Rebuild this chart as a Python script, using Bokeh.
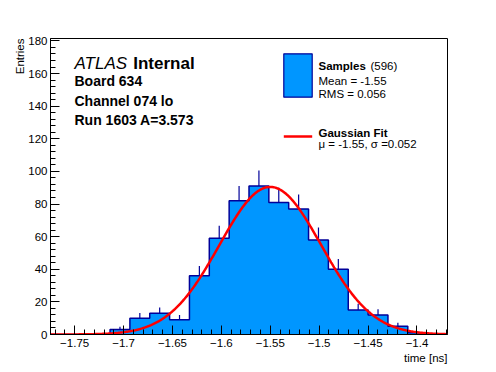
import numpy as np
from bokeh.plotting import figure
from bokeh.models import (Range1d, SingleIntervalTicker, CustomJSTickFormatter,
                          Label, Title)
from bokeh.embed import file_html
from bokeh.resources import INLINE

# ---------------- data ----------------
hist_min = -1.7747
hist_max = -1.3688
bin_counts = [0, 0, 0, 3, 10, 13, 9, 36, 59, 82, 91, 81, 77, 58, 40, 15, 12, 5, 1, 0]
fit_amplitude = 90.5
fit_mu = -1.55
fit_sigma = 0.052
y_max = 181.5
n_entries = 596
mean_txt = "-1.55"
rms_txt = "0.056"

# ---------------- derived ----------------
nb = len(bin_counts)
edges = np.linspace(hist_min, hist_max, nb + 1)
counts = np.array(bin_counts, dtype=float)
centers = 0.5 * (edges[:-1] + edges[1:])
step_y = np.append(counts, counts[-1])

FONT = "Liberation Sans"
FILL = "#0096ff"
DARK = "#000099"

# frame geometry in page pixels (for annotation placement only)
FL, FR, FT, FB = 50.0, 447.0, 38.0, 334.0


def dx(px):
    return hist_min + (px - FL) / (FR - FL) * (hist_max - hist_min)


def dy(py):
    return (FB - py) / (FB - FT) * y_max


p = figure(frame_width=int(FR - FL), frame_height=int(FB - FT),
           output_backend="svg", toolbar_location=None,
           x_range=Range1d(hist_min, hist_max), y_range=Range1d(0, y_max),
           min_border_left=50, min_border_right=49, min_border_top=38,
           min_border_bottom=38)
p.xgrid.visible = False
p.ygrid.visible = False
p.outline_line_color = "black"
p.outline_line_width = 1
p.background_fill_color = "white"
p.border_fill_color = "white"

# histogram fill (single area, no seams)
p.varea_step(x=edges, y1=np.zeros_like(step_y), y2=step_y, step_mode="after",
             fill_color=FILL)
# outline step
p.step(x=edges, y=step_y, mode="after", line_color=DARK, line_width=1.5)
# error bars (upper)
nz = counts > 0
p.segment(x0=centers[nz], y0=counts[nz], x1=centers[nz],
          y1=counts[nz] + np.sqrt(counts[nz]), line_color=DARK, line_width=1.2)

# gaussian fit
xf = np.linspace(hist_min, hist_max, 400)
yf = fit_amplitude * np.exp(-0.5 * ((xf - fit_mu) / fit_sigma) ** 2)
p.line(xf, yf, line_color="#ff0000", line_width=2.5)

# axes
xa = p.xaxis[0]
xa.ticker = SingleIntervalTicker(interval=0.05, num_minor_ticks=5)
xa.formatter = CustomJSTickFormatter(code="""
    var v = Math.round(tick*100)/100;
    return String(v).replace('-', '\\u2212');
""")
ya = p.yaxis[0]
ya.ticker = SingleIntervalTicker(interval=20, num_minor_ticks=5)
for ax in (xa, ya):
    ax.major_tick_in = 9
    ax.major_tick_out = 0
    ax.minor_tick_in = 5
    ax.minor_tick_out = 0
    ax.axis_line_color = "black"
    ax.major_tick_line_color = "black"
    ax.minor_tick_line_color = "black"
    ax.major_label_text_font = FONT
    ax.major_label_text_font_size = "11.5px"
    ax.major_label_text_color = "black"
xa.major_label_standoff = 4
ya.major_label_standoff = 3

# axis titles
p.add_layout(Title(text="time [ns]", align="right", text_font=FONT,
                   text_font_size="11.5px", text_font_style="normal",
                   text_color="black", standoff=0, offset=0), "below")
p.add_layout(Title(text="Entries", align="right", text_font=FONT,
                   text_font_size="11.5px", text_font_style="normal",
                   text_color="black", standoff=0, offset=0), "left")

# header text
p.add_layout(Label(x=dx(74), y=dy(63.3), text="ATLAS", text_font=FONT,
                   text_font_style="italic", text_font_size="17px",
                   text_color="black", text_baseline="alphabetic"))
p.add_layout(Label(x=dx(132.7), y=dy(63.3), text="Internal", text_font=FONT,
                   text_font_style="bold", text_font_size="17px",
                   text_color="black", text_baseline="alphabetic"))
for txt, base in (("Board 634", 80.7), ("Channel 074 lo", 100.0),
                  ("Run 1603 A=3.573", 119.0)):
    p.add_layout(Label(x=dx(74), y=dy(base), text=txt, text_font=FONT,
                       text_font_style="bold", text_font_size="14px",
                       text_color="black", text_baseline="alphabetic"))

# legend
p.quad(left=dx(283.3), right=dx(311.7), top=dy(53.3), bottom=dy(96.7),
       fill_color=FILL, line_color=DARK, line_width=1.2)
p.line([dx(283.3), dx(311.7)], [dy(136), dy(136)], line_color="#ff0000",
       line_width=2.5)
LFS = "11.5px"


def legend_text(px, py, txt, style="normal"):
    p.add_layout(Label(x=dx(px), y=dy(py), text=txt, text_font=FONT,
                       text_font_style=style, text_font_size=LFS,
                       text_color="black", text_baseline="alphabetic"))


legend_text(318, 65, "Samples", "bold")
legend_text(370, 65, "(%d)" % n_entries)
legend_text(318, 80, "Mean = " + mean_txt)
legend_text(318, 93.3, "RMS = " + rms_txt)
legend_text(318, 132.3, "Gaussian Fit", "bold")
legend_text(318, 143.5, "\u03bc = %.2f, \u03c3 =%.3f" % (fit_mu, fit_sigma))

open("out.html", "w").write(file_html(p, INLINE))
